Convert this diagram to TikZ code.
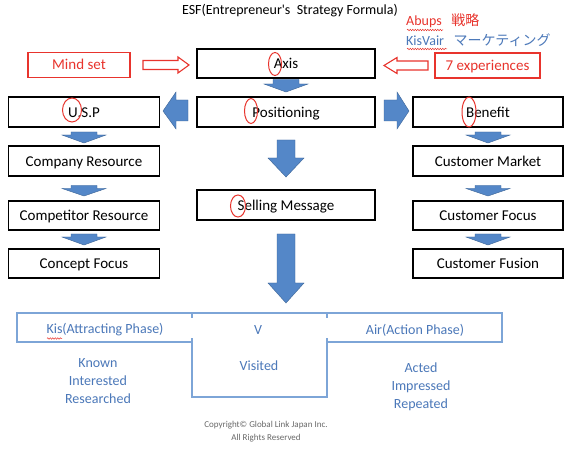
\documentclass[tikz,border=0pt]{standalone}
\usepackage{fontspec}
\setmainfont{Carlito}
\newfontfamily\plainfont{Carlito}
\newfontfamily\jp{Noto Sans CJK JP}
\usetikzlibrary{decorations.pathmorphing}
\definecolor{arrfill}{RGB}{84,135,200}
\definecolor{arredge}{RGB}{60,100,150}
\definecolor{myred}{RGB}{232,52,45}
\definecolor{lblue}{RGB}{125,165,215}
\definecolor{tblue}{RGB}{75,120,185}
\definecolor{cgray}{RGB}{105,105,105}
\tikzset{
  box/.style={draw=black, line width=1.3pt, minimum height=30pt, inner sep=0pt, text height=13pt, text depth=2pt, font=\fontsize{15}{18}\selectfont},
  redbox/.style={draw=myred, line width=1.1pt, minimum height=25pt, inner sep=0pt, text height=12.5pt, text depth=2.5pt, text=myred, font=\fontsize{15}{18}\selectfont},
  blockarrow/.style={fill=arrfill, draw=arredge, line width=0.4pt},
  hollowarrow/.style={fill=white, draw=myred, line width=1.1pt},
  redring/.style={draw=myred, line width=1pt},
  phase/.style={text=tblue, font=\fontsize{14}{18}\selectfont, align=center, inner sep=0pt},
  squiggle/.style={draw=myred, line width=0.5pt, decorate, decoration={snake, amplitude=0.7pt, segment length=2.5pt}}
}
% down block arrow: cx, ytop, yheadbase, ytip, shaft half, head half
\newcommand\dnblock[6]{%
  \filldraw[blockarrow] ({#1-#5},#2) -- ({#1+#5},#2) -- ({#1+#5},#3) -- ({#1+#6},#3) -- (#1,#4) -- ({#1-#6},#3) -- ({#1-#5},#3) -- cycle;}
\begin{document}
\begin{tikzpicture}[x=1pt,y=-1pt]
\useasboundingbox (0,0) rectangle (576,449);
\fill[white] (0,0) rectangle (576,449);

% title
\node[font=\plainfont\fontsize{14}{16}\selectfont] (title) at (290,11) {ESF(Entrepreneur's\ \ Strategy Formula)};
\node[anchor=west, inner sep=0pt, text=myred, font=\fontsize{14}{16}\selectfont] (abups) at (406,21) {Abups\ \ \ {\jp 戦略}};
\node[anchor=west, inner sep=0pt, text=tblue, font=\fontsize{14}{16}\selectfont] (kisvair) at (406,40) {KisVair\ \ \ {\jp マーケティング}};
\draw[squiggle] (407,30) -- (443,30);
\draw[squiggle] (407,49) -- (447,49);

% top row
\node[box, minimum width=178pt, minimum height=29pt] (axis) at (286,63.5) {Axis};
\node[redbox, minimum width=102pt] (mind) at (79,65) {Mind set};
\node[redbox, minimum width=105pt] (seven) at (487.5,65.5) {7 experiences};

% hollow arrows
\filldraw[hollowarrow] (143,60.5) -- (178,60.5) -- (178,57) -- (189,65) -- (178,73) -- (178,69.5) -- (143,69.5) -- cycle;
\filldraw[hollowarrow] (428,61) -- (397,61) -- (397,57.5) -- (384,65.5) -- (397,73.5) -- (397,70) -- (428,70) -- cycle;

% second row
\node[box, minimum width=151pt] (usp) at (84,112) {U.S.P};
\node[box, minimum width=178pt] (pos) at (286,112) {Positioning};
\node[box, minimum width=150pt] (ben) at (488,112) {Benefit};

% left column
\node[box, minimum width=151pt] (comp) at (84,161) {Company Resource};
\node[box, minimum width=151pt, minimum height=29pt] (compet) at (84,215.5) {Competitor Resource};
\node[box, minimum width=151pt, minimum height=29pt] (concept) at (84,263.5) {Concept Focus};

% right column
\node[box, minimum width=150pt] (cmarket) at (488,161) {Customer Market};
\node[box, minimum width=150pt, minimum height=29pt] (cfocus) at (488,215.5) {Customer Focus};
\node[box, minimum width=150pt, minimum height=29pt] (cfusion) at (488,263.5) {Customer Fusion};

% centre
\node[box, minimum width=178pt] (sell) at (286,205) {Selling Message};

% block arrows
\dnblock{286}{79.5}{84}{92}{13}{22}
\dnblock{286}{140}{158}{177}{9}{18}
\dnblock{286}{234}{283}{303}{9}{18}
\dnblock{84}{132}{135}{143}{13}{22}
\dnblock{84}{185.5}{188.5}{196}{13}{22}
\dnblock{84}{234}{237}{245}{13}{22}
\dnblock{488}{132}{135}{143}{13}{22}
\dnblock{488}{185.5}{188.5}{196}{13}{22}
\dnblock{488}{234}{237}{245}{13}{22}
% left and right
\filldraw[blockarrow] (188,100) -- (176,100) -- (176,92) -- (163,111) -- (176,129) -- (176,121) -- (188,121) -- cycle;
\filldraw[blockarrow] (384,100) -- (397,100) -- (397,92) -- (409,111) -- (397,129) -- (397,121) -- (384,121) -- cycle;

% red rings
\draw[redring] (275,64) ellipse [x radius=6.5, y radius=11.5];
\draw[redring] (72,110) ellipse [x radius=9.5, y radius=12];
\draw[redring] (251,111) ellipse [x radius=6.5, y radius=12.5];
\draw[redring] (469,112) ellipse [x radius=7, y radius=15];
\draw[redring] (238,206) ellipse [x radius=7.5, y radius=11];

% bottom phases
\draw[lblue, line width=1.5pt] (17,313) -- (502,313) -- (502,342) -- (327,342) -- (327,397) -- (192,397) -- (192,342) -- (17,342) -- cycle;
\draw[white, line width=2pt] (192,319) -- (192,336) (327,319) -- (327,336);
\draw[lblue, line width=1.5pt] (192,313) -- (192,318) (327,313) -- (327,318);
\draw[lblue, line width=1.5pt] (192,338) -- (192,342) (327,338) -- (327,342);

\node[phase] (kis) at (105,330) {Kis(Attracting Phase)};
\node[phase] (v) at (258,330) {V};
\node[phase] (air) at (415,330) {Air(Action Phase)};
\draw[squiggle] (47,338.5) -- (62,338.5);

\node[phase] (kir) at (98,381) {Known\\Interested\\Researched};
\node[phase] (visited) at (259,366) {Visited};
\node[phase] (air2) at (421,386.5) {Acted\\Impressed\\Repeated};

\node[text=cgray, font=\fontsize{9}{13}\selectfont, align=center] (copy) at (266,432) {Copyright\textcopyright\ Global Link Japan Inc.\\All Rights Reserved};
\end{tikzpicture}
\end{document}
